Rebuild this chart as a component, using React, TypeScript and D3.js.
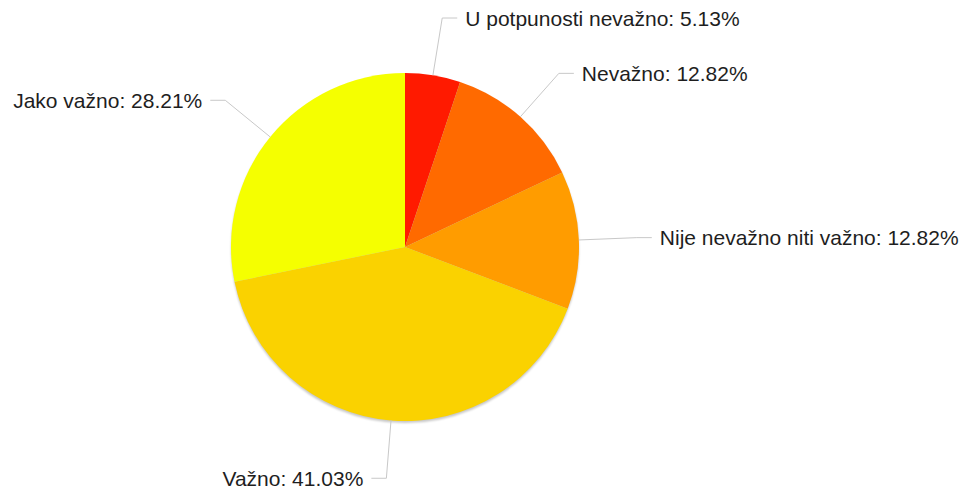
import React from "react";
import * as d3 from "d3";

const categories = [
  "U potpunosti nevažno",
  "Nevažno",
  "Nije nevažno niti važno",
  "Važno",
  "Jako važno",
];
const values = [5.13, 12.82, 12.82, 41.03, 28.21];
const colors = ["#ff1a00", "#ff6a00", "#ff9c00", "#fad200", "#f5ff00"];

const W = 959;
const H = 490;
const cx = 405;
const cy = 247;
const R = 174;
const elbowR = 232;
const hLen = 15;
const gap = 8;

export default function App() {
  const data = categories.map((c, i) => ({ c, v: values[i], col: colors[i] }));
  const pie = d3.pie<any>().sort(null).value((d) => d.v);
  const arcs = pie(data);
  const arcGen = d3.arc<any>().innerRadius(0).outerRadius(R);

  return (
    <svg
      width={W}
      height={H}
      style={{ position: "absolute", left: 0, top: 0, display: "block", background: "#fff" }}
    >
      <defs>
        <filter id="sh" x="-10%" y="-10%" width="120%" height="120%">
          <feGaussianBlur stdDeviation="1.2" />
        </filter>
      </defs>
      <circle cx={cx} cy={cy + 2} r={R} fill="#000" opacity={0.22} filter="url(#sh)" />
      <g transform={`translate(${cx},${cy})`}>
        {arcs.map((a, i) => (
          <path key={i} d={arcGen(a) || ""} fill={a.data.col} />
        ))}
      </g>
      {arcs.map((a, i) => {
        const mid = (a.startAngle + a.endAngle) / 2;
        const sx = cx + R * Math.sin(mid);
        const sy = cy - R * Math.cos(mid);
        const ex = cx + elbowR * Math.sin(mid);
        const ey = cy - elbowR * Math.cos(mid);
        const right = Math.sin(mid) >= 0;
        const hx = ex + (right ? hLen : -hLen);
        const tx = hx + (right ? gap : -gap);
        return (
          <g key={"l" + i}>
            <polyline
              points={`${sx},${sy} ${ex},${ey} ${hx},${ey}`}
              fill="none"
              stroke="#c8c8c8"
              strokeWidth={1}
            />
            <text
              x={tx}
              y={ey}
              dy="0.36em"
              textAnchor={right ? "start" : "end"}
              fontFamily="'Liberation Sans', Arial, sans-serif"
              fontSize={21}
              fill="#1e1e1e"
            >
              {`${a.data.c}: ${a.data.v.toFixed(2)}%`}
            </text>
          </g>
        );
      })}
    </svg>
  );
}
